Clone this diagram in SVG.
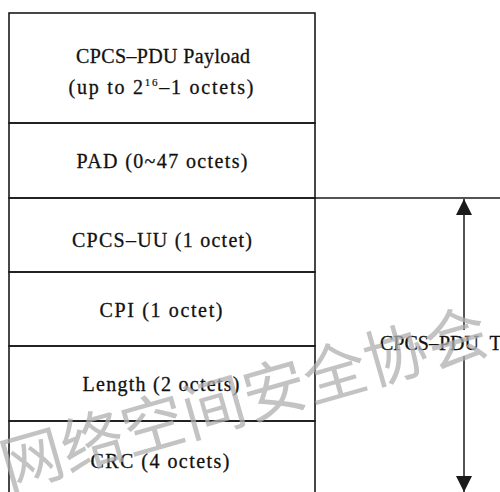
<svg xmlns="http://www.w3.org/2000/svg" width="500" height="492" viewBox="0 0 500 492">
<style>
.f{fill:none;stroke:#1a1a1a;stroke-width:1.6}
.t{font-family:"Liberation Serif","DejaVu Serif","Times New Roman",serif;font-size:20px;fill:#111;stroke:#111;stroke-width:0.3;text-anchor:middle}
.c{stroke:#1a1a1a;stroke-width:1.5;fill:none}
.wm{font-family:"Noto Sans CJK SC","Noto Sans",sans-serif;font-size:63px;fill:#b0b0b0;opacity:0.75}
</style>
<defs>
<marker id="ah" viewBox="0 0 16 16" refX="16" refY="8" markerWidth="16" markerHeight="16" markerUnits="userSpaceOnUse" orient="auto-start-reverse">
<path d="M0,0 L16,8 L0,16 Z" fill="#1a1a1a"/>
</marker>
</defs>
<rect width="500" height="492" fill="#fff"/>
<g id="payload">
<rect class="f" x="9" y="13" width="306" height="110"/>
<text class="t" x="163" y="63" textLength="174" lengthAdjust="spacing">CPCS–PDU Payload</text>
<text class="t" x="161" y="94" textLength="185" lengthAdjust="spacing">(up to 2<tspan font-size="11" stroke-width="0.2" dy="-8">16</tspan><tspan dy="8">–1 octets)</tspan></text>
</g>
<g id="pad">
<rect class="f" x="9" y="123" width="306" height="75"/>
<text class="t" x="162" y="168" textLength="171" lengthAdjust="spacing">PAD (0~47 octets)</text>
</g>
<g id="cpcs-uu">
<rect class="f" x="9" y="198" width="306" height="74"/>
<text class="t" x="162" y="247" textLength="180" lengthAdjust="spacing">CPCS–UU (1 octet)</text>
</g>
<g id="cpi">
<rect class="f" x="9" y="272" width="306" height="74"/>
<text class="t" x="161" y="317" textLength="123" lengthAdjust="spacing">CPI (1 octet)</text>
</g>
<g id="length">
<rect class="f" x="9" y="346" width="306" height="75"/>
<text class="t" x="161" y="391" textLength="157" lengthAdjust="spacing">Length (2 octets)</text>
</g>
<g id="crc">
<rect class="f" x="9" y="421" width="306" height="80"/>
<text class="t" x="160" y="468" textLength="139" lengthAdjust="spacing">CRC (4 octets)</text>
</g>
<g id="connectors">
<line class="c" x1="315" y1="198" x2="500" y2="198"/>
<line class="c" x1="464" y1="199" x2="464" y2="492" marker-start="url(#ah)" marker-end="url(#ah)"/>
</g>
<g id="trailer-label">
<rect x="378" y="330" width="122" height="26" fill="#fff"/>
<text class="t" x="380" y="350" style="text-anchor:start;word-spacing:6px">CPCS–PDU Trailer</text>
</g>
<g id="watermark">
<text class="wm" transform="translate(8,490) rotate(-16)">网络空间安全协会</text>
</g>
</svg>
